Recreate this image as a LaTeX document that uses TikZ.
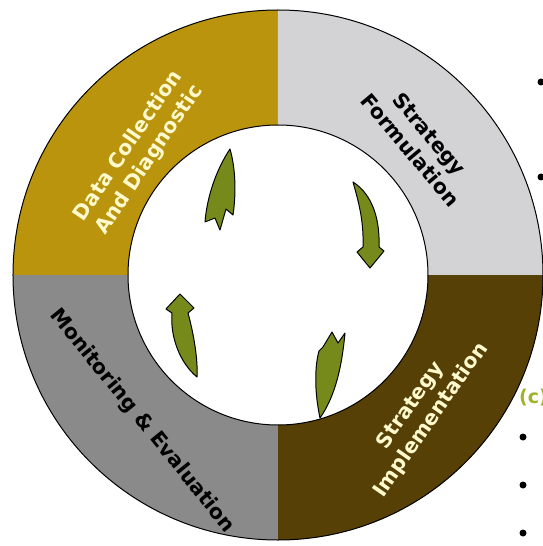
\documentclass[tikz,border=0pt]{standalone}
\usepackage{fontspec}
\setmainfont{DejaVu Sans}
\usepackage{tikz}
\usepackage{xcolor}
\usetikzlibrary{positioning,calc}
\definecolor{dataochre}{RGB}{185,148,12}
\definecolor{formgray}{RGB}{211,211,214}
\definecolor{implbrown}{RGB}{86,64,6}
\definecolor{evalgray}{RGB}{138,138,138}
\definecolor{leafgreen}{RGB}{118,138,28}
\definecolor{lightcream}{RGB}{255,250,205}
\definecolor{capgreen}{RGB}{160,178,40}

\tikzset{
  phase/.style={font=\bfseries\fontsize{20.5}{25}\selectfont, align=center, inner sep=0pt},
  leaf/.style={draw=black, line width=1pt, fill=leafgreen, line join=round},
  bulletdot/.style={circle, fill=black, inner sep=0pt, minimum size=7pt},
}

\begin{document}
\begin{tikzpicture}[x=1pt,y=1pt]
    \useasboundingbox (-278,-271) rectangle (265,275);
    % Ring of four phases
    \foreach \a/\col in {90/dataochre, 0/formgray, 270/implbrown, 180/evalgray}
        \fill[\col] (\a:265) arc (\a:\a+90:265) -- (\a+90:150) arc (\a+90:\a:150) -- cycle;
    \draw[line width=1pt] (0,0) circle (265);
    \draw[line width=1pt] (0,0) circle (150);

    % Phase labels
    \node[phase, text=lightcream, rotate=56] (datacol) at (-139,122) {Data Collection\\And Diagnostic};
    \node[phase, rotate=-50] (stratform) at (142,133) {Strategy\\Formulation};
    \node[phase, text=lightcream, rotate=55] (stratimpl) at (143,-138) {Strategy\\Implementation};
    \node[phase, rotate=-51] (moneval) at (-136,-146) {Monitoring \& Evaluation};

    % Cycle arrows
    \draw[leaf] (-48,126) .. controls (-42,105) and (-42,80) .. (-45,60) -- (-52,66) -- (-58,45) -- (-63,57) -- (-73,53) .. controls (-71,78) and (-62,105) .. cycle;
    \draw[leaf] (75,93) .. controls (95,80) and (102,55) .. (101,28) -- (106,24) -- (92,7) -- (79,23) -- (85,28) .. controls (86,55) and (80,75) .. cycle;
    \draw[leaf] (54,-57) -- (60,-68) -- (67,-58) .. controls (64,-90) and (58,-120) .. (42,-143) .. controls (36,-115) and (37,-90) .. (41,-76) -- (45,-72) -- cycle;
    \draw[leaf] (-98,-19) -- (-84,-33) -- (-90,-38) .. controls (-84,-60) and (-80,-85) .. (-81,-102) .. controls (-98,-88) and (-108,-62) .. (-106,-38) -- (-112,-34) -- cycle;

    % Cut-off list on the right
    \node[bulletdot] (dotA) at (263,193) {};
    \node[bulletdot] (dotB) at (263,98) {};
    \node[anchor=west, text=capgreen, font=\bfseries\fontsize{19}{21}\selectfont, inner sep=0pt] (capc) at (241,-123) {(c)};
    \node[bulletdot] (dotC) at (245,-162) {};
    \node[bulletdot] (dotD) at (245,-210) {};
    \node[bulletdot] (dotE) at (245,-258) {};
\end{tikzpicture}
\end{document}
